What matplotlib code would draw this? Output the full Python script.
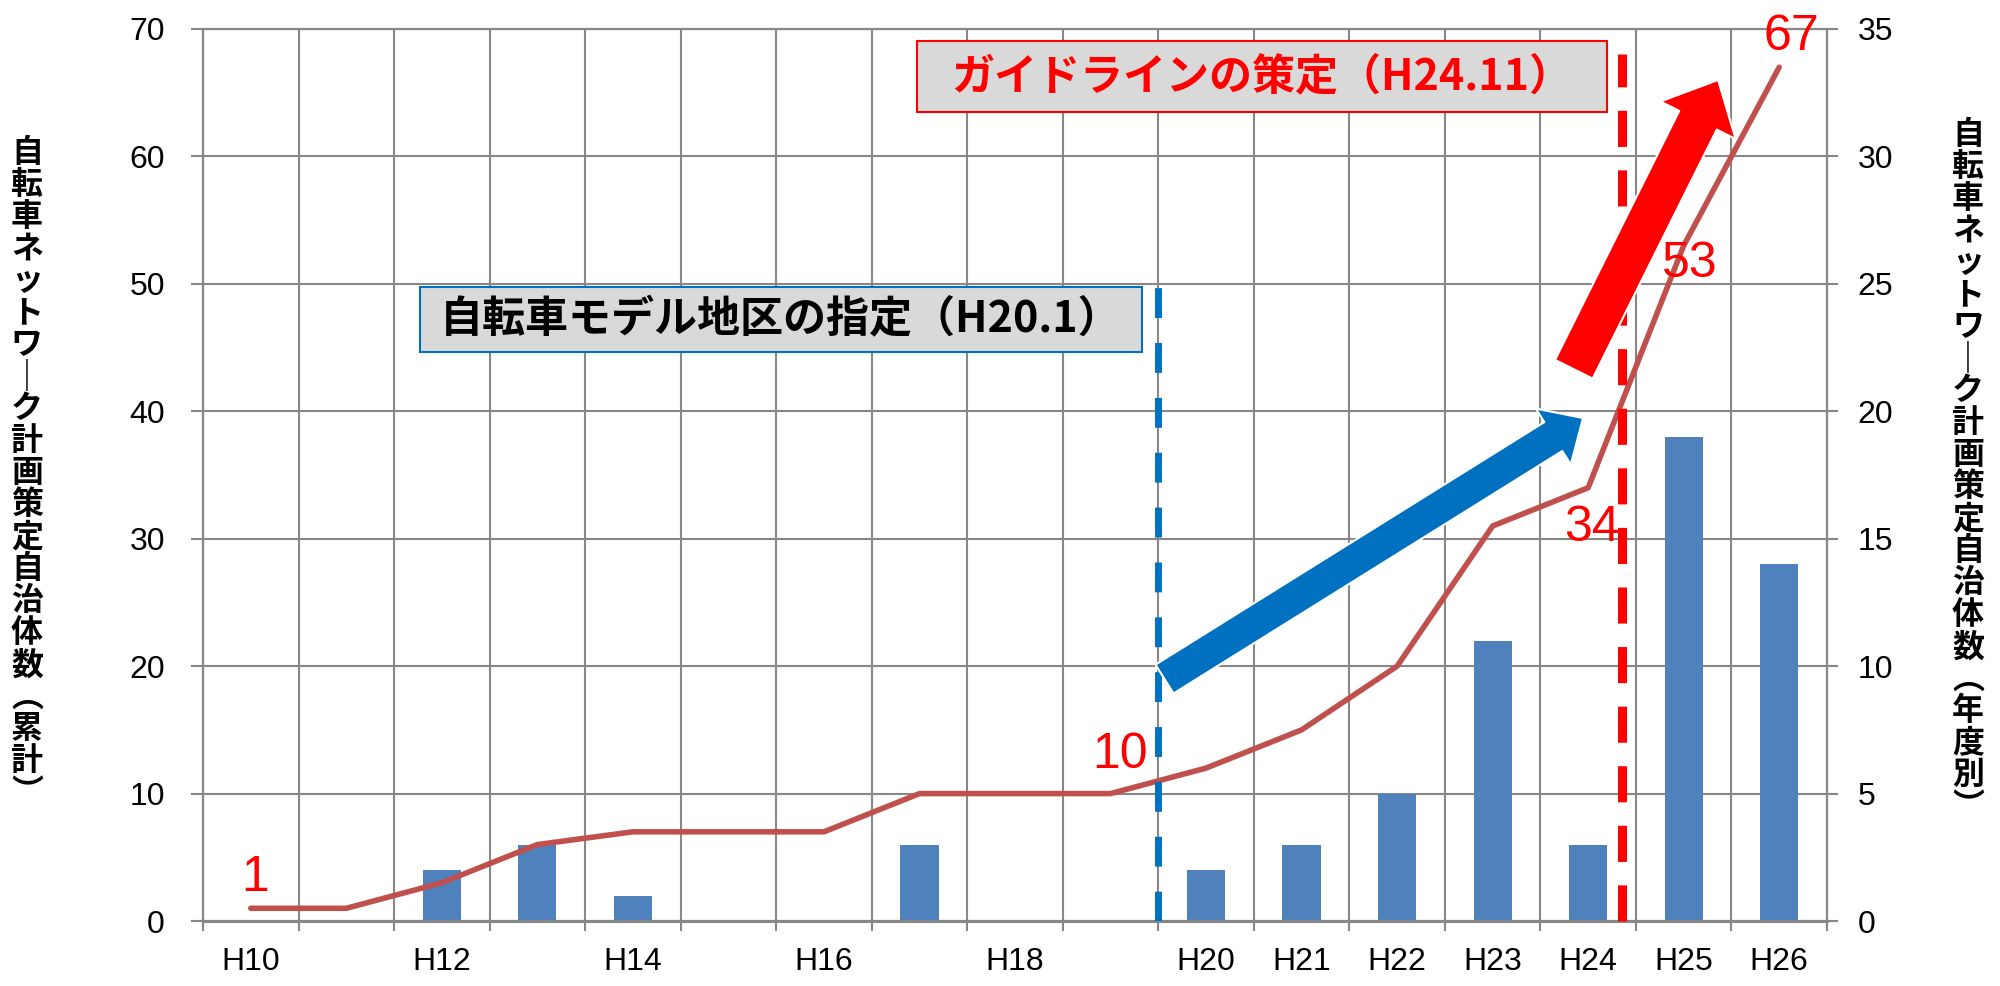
import numpy as np
import matplotlib
import matplotlib.pyplot as plt
from matplotlib.patches import Rectangle, FancyArrowPatch

matplotlib.use('Agg')

plt.rcParams['font.family'] = ['Liberation Sans', 'Noto Sans CJK JP']

# data
years = ['H10', 'H11', 'H12', 'H13', 'H14', 'H15', 'H16', 'H17', 'H18',
         'H19', 'H20', 'H21', 'H22', 'H23', 'H24', 'H25', 'H26']
tick_labels = ['H10', '', 'H12', '', 'H14', '', 'H16', '', 'H18',
               '', 'H20', 'H21', 'H22', 'H23', 'H24', 'H25', 'H26']
per_year = [0, 0, 2, 3, 1, 0, 0, 3, 0, 0, 2, 3, 5, 11, 3, 19, 14]
cumulative = [1, 1, 3, 6, 7, 7, 7, 10, 10, 10, 12, 15, 20, 31, 34, 53, 67]
labelled = [0, 9, 14, 15, 16]

left_label = '自転車ネットワーク計画策定自治体数（累計）'
right_label = '自転車ネットワーク計画策定自治体数（年度別）'
event1 = '自転車モデル地区の指定（H20.1）'
event2 = 'ガイドラインの策定（H24.11）'

GRAY = '#878787'
BAR = '#4F81BD'
LINE = '#C0504D'
BLUE = '#0070C0'
RED = '#FF0000'
PX = 0.72  # pixels -> points at dpi 100

fig = plt.figure(figsize=(20, 9.86), dpi=100)
ax = fig.add_axes([0.1015, 0.0659, 0.812, 0.9047])
ax2 = ax.twinx()
ax.set_zorder(ax2.get_zorder() + 1)
ax.patch.set_visible(False)

x = np.arange(len(years))
ax.set_xlim(-0.5, len(years) - 0.5)
ax.set_ylim(0, 70)
ax2.set_ylim(0, 35)

# grid lives on the lower axes so the bars cover it
ax2.xaxis.set_visible(True)
ax.set_xticks(x)
ax.set_xticks(np.arange(-0.5, len(years)), minor=True)
ax2.set_axisbelow(True)
ax2.grid(True, which='minor', axis='x', color=GRAY, lw=1.5)
ax2.grid(True, which='major', axis='y', color=GRAY, lw=1.5)
ax2.tick_params(axis='x', which='both', length=0, labelbottom=False)

ax.set_xticklabels(tick_labels)
ax.tick_params(axis='x', which='major', length=0, pad=19, labelsize=23)
ax.tick_params(axis='x', which='minor', length=7.5, width=1.5, color=GRAY)
ax.set_yticks(range(0, 71, 10))
ax.tick_params(axis='y', length=8.5, width=1.5, color=GRAY, pad=19, labelsize=23)
ax2.set_yticks(range(0, 36, 5))
ax2.tick_params(axis='y', length=8, width=1.5, color=GRAY, pad=14, labelsize=23)
for a in (ax, ax2):
    for s in a.spines.values():
        s.set_color(GRAY)
        s.set_linewidth(1.5)
ax.spines['bottom'].set_linewidth(2.2)

ax2.bar(x, per_year, width=0.4, color=BAR, zorder=2)
ax.plot(x, cumulative, color=LINE, lw=4, solid_capstyle='round', zorder=3)

offsets = {0: (3, 22), 9: (7, 28), 14: (3, -29), 15: (4.5, -13), 16: (9, 22)}
for i in labelled:
    ax.annotate(str(cumulative[i]), (x[i], cumulative[i]), xytext=offsets[i],
                textcoords='offset points', ha='center', va='center',
                fontsize=36, color=RED, zorder=7, annotation_clip=False)

# event markers
model_x = 9.5      # H20.1
guide_x = 14.35    # H24.11
ax.plot([model_x, model_x], [0, 50], color=BLUE, lw=5,
        linestyle=(0, (4.3, 3.6)), zorder=4)
ax.plot([guide_x, guide_x], [0, 68], color=RED, lw=6.5,
        linestyle=(0, (4.0, 2.6)), zorder=4, clip_on=False)

blue_arrow = FancyArrowPatch(
    (9.565, 18.99), (13.946, 39.47),
    arrowstyle=f'simple,head_length={35 * PX},head_width={66 * PX},tail_width={34 * PX}',
    mutation_scale=1, shrinkA=0, shrinkB=0, fc=BLUE, ec='white', lw=1.5, zorder=5)
ax.add_patch(blue_arrow)
red_arrow = FancyArrowPatch(
    (13.85, 43.3), (15.36, 66.0),
    arrowstyle=f'simple,head_length={45 * PX},head_width={84 * PX},tail_width={42 * PX}',
    mutation_scale=1, shrinkA=0, shrinkB=0, fc=RED, ec='white', lw=1.5, zorder=5)
ax.add_patch(red_arrow)

ax.add_patch(Rectangle((0.1336, 0.638), 0.4444, 0.073, transform=ax.transAxes,
                       fc='#D9D9D9', ec=BLUE, lw=1.5, zorder=6, clip_on=False))
ax.text(0.3558, 0.6745, event1, transform=ax.transAxes, ha='center', va='center',
        fontsize=31, fontweight='bold', family='Noto Sans CJK JP', zorder=7)
ax.add_patch(Rectangle((0.4397, 0.907), 0.4248, 0.0795, transform=ax.transAxes,
                       fc='#D9D9D9', ec=RED, lw=1.5, zorder=6, clip_on=False))
ax.text(0.652, 0.9465, event2, transform=ax.transAxes, ha='center', va='center',
        fontsize=31, fontweight='bold', color=RED, family='Noto Sans CJK JP', zorder=7)


def vertical(s):
    s = s.replace('ー', '｜').replace('（', '︵').replace('）', '︶')
    return '\n'.join(s)


fig.text(27 / 2000, 0.52, vertical(left_label), ha='center', va='center',
         fontsize=23, fontweight='bold', family='Noto Sans CJK JP', linespacing=1.0)
fig.text(1968 / 2000, 0.522, vertical(right_label), ha='center', va='center',
         fontsize=23, fontweight='bold', family='Noto Sans CJK JP', linespacing=1.0)

fig.savefig('out.png', dpi=100, facecolor='white')
